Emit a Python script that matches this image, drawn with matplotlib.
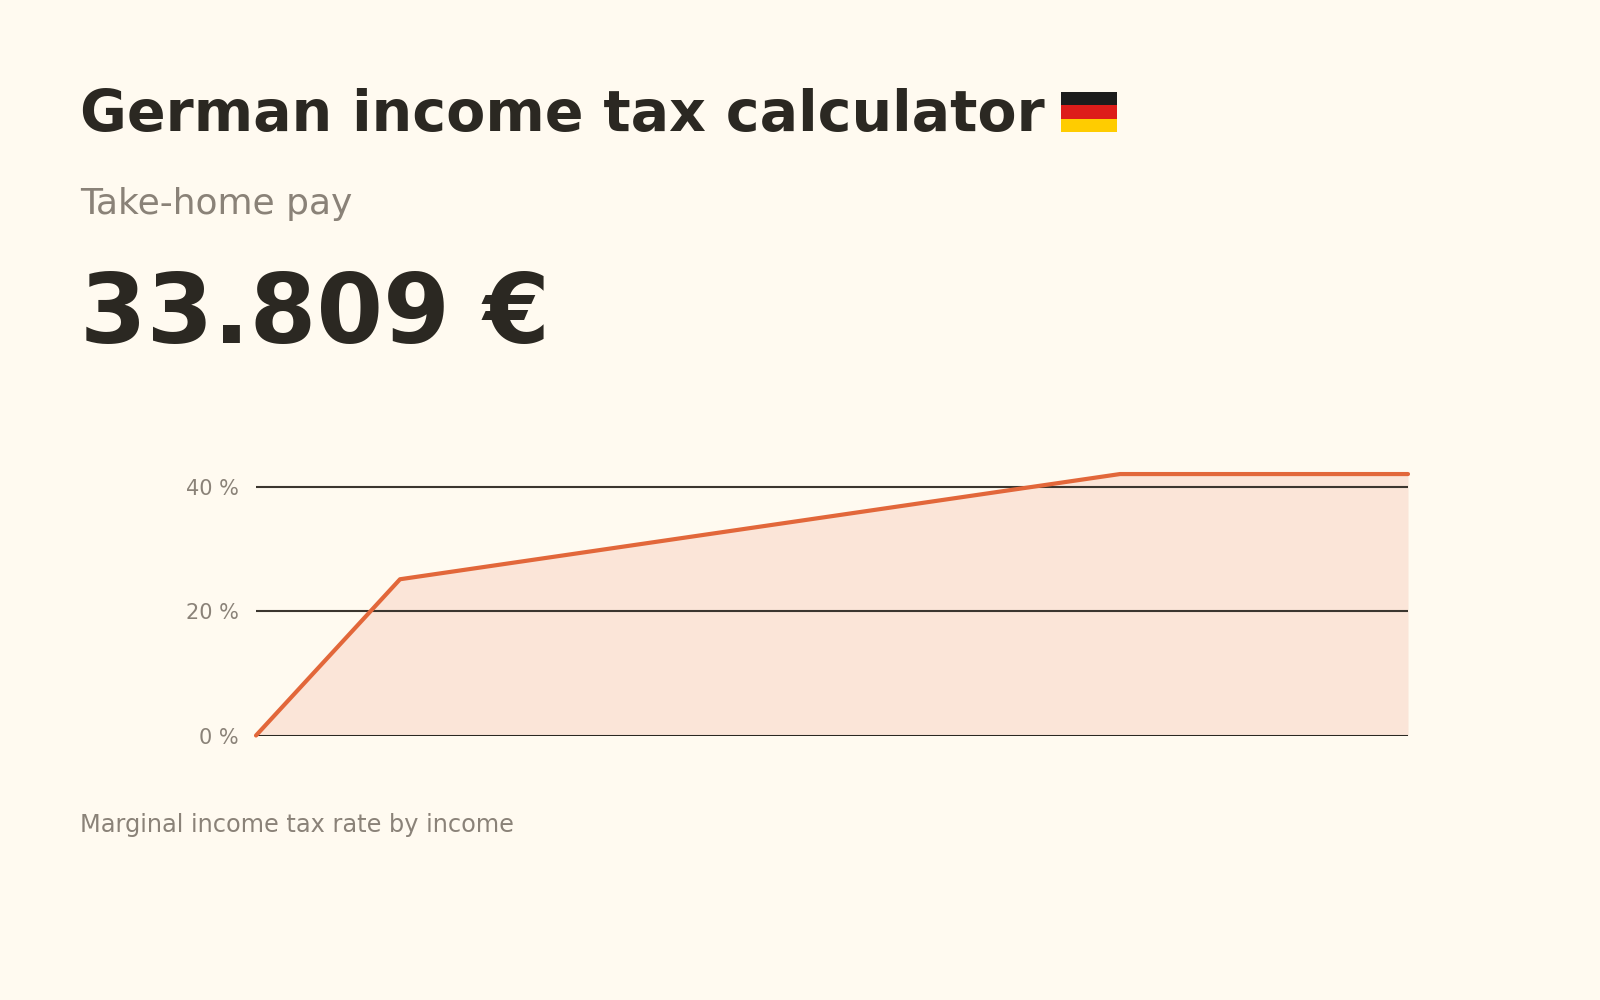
import matplotlib
matplotlib.use("Agg")
import matplotlib.pyplot as plt
from matplotlib.patches import Rectangle

# Данные: доход (евро) и предельная ставка налога (%)
income = [0, 11_250, 67_500, 90_000]
marginal_rate = [0, 25.1, 42, 42]
y_ticks = [0, 20, 40]
y_tick_labels = ["0 %", "20 %", "40 %"]

title = "German income tax calculator"
subtitle = "Take-home pay"
take_home = "33.809 €"
caption = "Marginal income tax rate by income"

BG = "#fffaf0"
DARK = "#2b2822"
GREY = "#8a8278"
LINE = "#e2673a"
FILL = "#fbe5d8"
GRID = "#3b362f"

W, H = 1600, 1000
fig = plt.figure(figsize=(16, 10), dpi=100, facecolor=BG)


def fx(px):
    return px / W


def fy(py):
    return 1 - py / H


# Заголовки
fig.text(fx(80), fy(131), title, fontsize=41, fontweight="bold",
         color=DARK, va="baseline", ha="left")
fig.text(fx(80), fy(214), subtitle, fontsize=25.9, color=GREY,
         va="baseline", ha="left")
fig.text(fx(80), fy(343), take_home, fontsize=69, fontweight="bold",
         color=DARK, va="baseline", ha="left")
fig.text(fx(80), fy(832), caption, fontsize=17.3, color=GREY,
         va="baseline", ha="left")

# Флаг Германии (эмодзи недоступен, рисуем полосами)
flag_x, flag_top, flag_w, flag_h = 1061, 92, 56, 40
band_colors = ["#1c1c1c", "#dd1c1a", "#ffcc00"]
for i, c in enumerate(band_colors):
    top = flag_top + i * flag_h / 3
    fig.patches.append(Rectangle((fx(flag_x), fy(top + flag_h / 3)),
                                 flag_w / W, flag_h / 3 / H,
                                 transform=fig.transFigure,
                                 facecolor=c, edgecolor="none"))

# График
ax_left, ax_right = 256, 1408
ax_bottom = 735.5
px_per_pct = 6.225
ymax = 45
ax = fig.add_axes([fx(ax_left), fy(ax_bottom), (ax_right - ax_left) / W,
                   ymax * px_per_pct / H])
ax.set_facecolor("none")

ax.fill_between(income, marginal_rate, 0, color=FILL, linewidth=0, zorder=1)
for t in y_ticks:
    ax.axhline(t, color=DARK if t == 0 else GRID,
               linewidth=2.2 if t == 0 else 1.5, zorder=2)
ax.plot(income, marginal_rate, color=LINE, linewidth=3, solid_capstyle="round",
        solid_joinstyle="round", clip_on=False, zorder=3)

ax.set_xlim(income[0], income[-1])
ax.set_ylim(0, ymax)
ax.set_xticks([])
ax.set_yticks(y_ticks)
ax.set_yticklabels(y_tick_labels)
ax.tick_params(axis="y", length=0, pad=12.5, labelsize=15, labelcolor=GREY)
for s in ax.spines.values():
    s.set_visible(False)

fig.savefig("out.png", dpi=100, facecolor=BG)
